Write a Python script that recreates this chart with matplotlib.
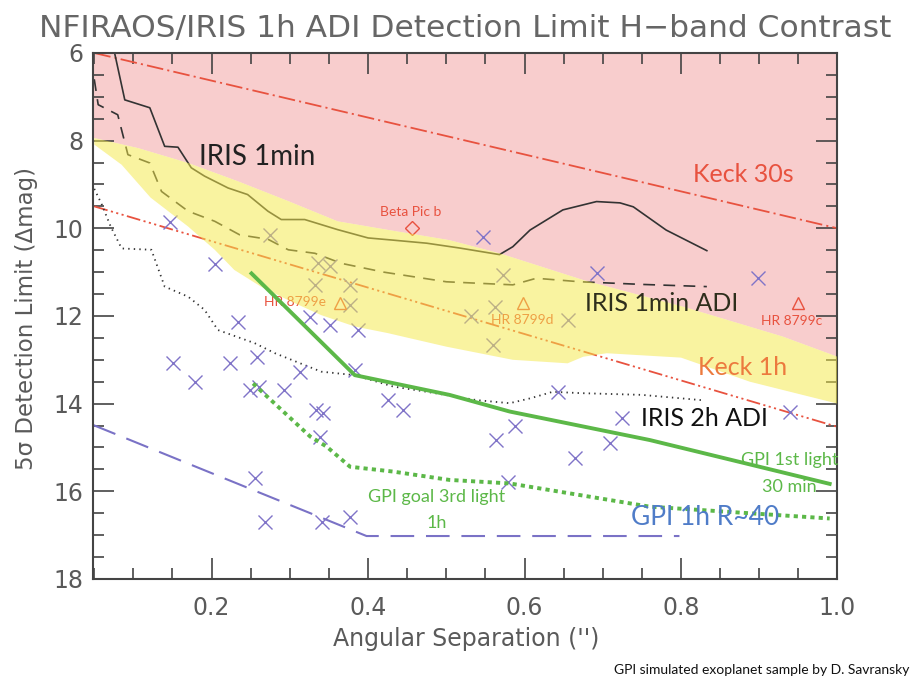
import numpy as np
import matplotlib
matplotlib.use("Agg")
import matplotlib.pyplot as plt

# ---- data ----
keck30_x = [0.05, 1.0]
keck30_y = [6.0, 10.0]
keck1h_x = [0.05, 1.0]
keck1h_y = [9.5, 14.53]

iris1_x = [0.076, 0.089, 0.121, 0.140, 0.157, 0.174, 0.191, 0.221, 0.246, 0.272, 0.289,
           0.319, 0.361, 0.400, 0.432, 0.475, 0.517, 0.568, 0.585, 0.607, 0.649, 0.692,
           0.722, 0.739, 0.781, 0.833]
iris1_y = [6.0, 7.07, 7.25, 8.13, 8.15, 8.62, 8.81, 9.08, 9.23, 9.61, 9.80,
           9.80, 10.03, 10.22, 10.27, 10.34, 10.45, 10.60, 10.42, 10.04, 9.58, 9.39,
           9.42, 9.51, 10.04, 10.51]

adi1_x = [0.05, 0.055, 0.080, 0.093, 0.121, 0.136, 0.170, 0.204, 0.236, 0.272, 0.298,
          0.332, 0.366, 0.420, 0.500, 0.585, 0.615, 0.671, 0.750, 0.833]
adi1_y = [6.6, 7.18, 7.41, 8.32, 8.51, 9.16, 9.61, 9.84, 10.15, 10.25, 10.49,
          10.57, 10.80, 11.00, 11.22, 11.29, 11.14, 11.22, 11.28, 11.33]

adi2_x = [0.05, 0.059, 0.071, 0.085, 0.123, 0.140, 0.170, 0.191, 0.208, 0.255, 0.281,
          0.340, 0.383, 0.432, 0.475, 0.539, 0.581, 0.607, 0.636, 0.671, 0.750, 0.826]
adi2_y = [9.1, 9.43, 9.96, 10.46, 10.49, 11.33, 11.56, 11.86, 12.32, 12.62, 12.85,
          13.27, 13.35, 13.61, 13.73, 13.92, 13.99, 13.88, 13.73, 13.76, 13.80, 13.92]

gpi1st_x = [0.251, 0.383, 0.504, 0.581, 0.760, 0.990]
gpi1st_y = [11.03, 13.35, 13.80, 14.18, 14.83, 15.83]

gpigoal_x = [0.253, 0.326, 0.347, 0.377, 0.432, 0.504, 0.581, 0.760, 0.990]
gpigoal_y = [13.54, 14.75, 14.98, 15.44, 15.55, 15.74, 15.82, 16.35, 16.62]

gpir40_x = [0.049, 0.253, 0.347, 0.398, 0.798]
gpir40_y = [14.49, 15.97, 16.65, 17.02, 17.02]

yel_up_x = [0.05, 0.106, 0.170, 0.234, 0.298, 0.361, 0.43, 0.504, 0.568, 0.675, 0.803, 0.93, 1.0]
yel_up_y = [7.94, 8.17, 8.51, 8.93, 9.38, 9.84, 10.05, 10.27, 10.57, 11.18, 11.79, 12.47, 12.93]
yel_lo_x = [0.05, 0.085, 0.122, 0.170, 0.204, 0.229, 0.263, 0.298, 0.340, 0.383, 0.425,
            0.50, 0.585, 0.655, 0.675, 0.705, 0.80, 0.888, 1.0]
yel_lo_y = [8.09, 8.55, 9.30, 9.96, 10.49, 10.95, 11.33, 11.64, 11.98, 12.24, 12.39,
            12.70, 13.00, 13.08, 12.93, 12.85, 12.95, 13.50, 14.00]

planets_x = [0.147, 0.275, 0.204, 0.336, 0.351, 0.332, 0.377, 0.377, 0.326, 0.351, 0.387,
             0.234, 0.547, 0.573, 0.562, 0.532, 0.560, 0.656, 0.692, 0.899, 0.151, 0.179,
             0.223, 0.258, 0.313, 0.249, 0.260, 0.292, 0.383, 0.334, 0.343, 0.338, 0.426,
             0.445, 0.255, 0.268, 0.341, 0.377, 0.564, 0.579, 0.643, 0.588, 0.664, 0.709,
             0.724, 0.939]
planets_y = [9.85, 10.15, 10.81, 10.80, 10.87, 11.29, 11.29, 11.75, 12.02, 12.21, 12.32,
             12.13, 10.19, 11.07, 11.79, 12.00, 12.66, 12.09, 11.03, 11.14, 13.08, 13.50,
             13.08, 12.93, 13.27, 13.69, 13.63, 13.69, 13.23, 14.15, 14.21, 14.75, 13.92,
             14.15, 15.70, 16.69, 16.69, 16.58, 14.83, 15.78, 13.73, 14.52, 15.25, 14.90,
             14.33, 14.18]

known_names = ["HR 8799e", "HR 8799d", "HR 8799c"]
known_x = [0.364, 0.598, 0.950]
known_y = [11.71, 11.71, 11.71]
betapic_x = 0.456
betapic_y = 10.0

plt.rcParams["lines.scale_dashes"] = False
lab_font = "Lato"
red = "#e8523f"
green = "#5cb848"
gray = "#5a5a5a"

fig = plt.figure(figsize=(9.12, 6.79), dpi=100)
ax = fig.add_axes([0.1025, 0.1473, 0.8158, 0.7747])
ax.set_xlim(0.049, 1.0)
ax.set_ylim(18, 6)

# pink region above the yellow band
ax.fill(list(yel_up_x) + [1.0, 0.049, 0.049],
        list(yel_up_y) + [6.0, 6.0, yel_up_y[0]],
        color="#f8cdcd", lw=0, zorder=0)

ax.plot(keck30_x, keck30_y, color=red, lw=1.3, ls=(0, (12, 3, 1.5, 3)), zorder=2)
ax.plot(keck1h_x, keck1h_y, color=red, lw=1.3,
        ls=(0, (10, 2.5, 1.5, 2.5, 1.5, 2.5, 1.5, 2.5)), zorder=2)
ax.plot(iris1_x, iris1_y, color="#333333", lw=1.2, zorder=2)
ax.plot(adi1_x, adi1_y, color="#333333", lw=1.2, ls=(0, (8.5, 6)), zorder=2)
ax.plot(adi2_x, adi2_y, color="#333333", lw=1.3, ls=(0, (1, 3)), zorder=2)
ax.plot(gpir40_x, gpir40_y, color="#7a72c6", lw=1.5, ls=(0, (17, 8.5)), zorder=2)
ax.plot(planets_x, planets_y, ls="none", marker="x", ms=10, mew=1.0,
        color="#8074c8", zorder=2)

ax.plot(known_x, known_y, ls="none", marker="^", ms=9, mfc="none", mew=1.0,
        color=red, zorder=2)
ax.plot([betapic_x], [betapic_y], ls="none", marker="D", ms=7, mfc="none", mew=1.0,
        color=red, zorder=2)
ax.text(betapic_x - 0.002, 9.71, "Beta Pic b", color=red, fontsize=10,
        family=lab_font, ha="center", va="baseline", zorder=2)
ax.text(0.346, 11.77, known_names[0], color=red, fontsize=10, family=lab_font,
        ha="right", va="baseline", zorder=2)
ax.text(0.597, 12.19, known_names[1], color=red, fontsize=10, family=lab_font,
        ha="center", va="baseline", zorder=2)
ax.text(0.942, 12.21, known_names[2], color=red, fontsize=10, family=lab_font,
        ha="center", va="baseline", zorder=2)

ax.text(0.258, 8.56, "IRIS 1min", color="#222222", fontsize=20, family=lab_font,
        ha="center", va="baseline", zorder=2)
ax.text(0.880, 8.94, "Keck 30s", color=red, fontsize=18, family=lab_font,
        ha="center", va="baseline", zorder=2)

# yellow band drawn over everything above, semi transparent
ax.fill(list(yel_up_x) + list(yel_lo_x[::-1]),
        list(yel_up_y) + list(yel_lo_y[::-1]),
        color="#f4e84a", alpha=0.52, lw=0, zorder=3)

ax.plot(gpi1st_x, gpi1st_y, color=green, lw=2.8, zorder=4)
ax.plot(gpigoal_x, gpigoal_y, color=green, lw=2.8, ls=(0, (3, 3)), zorder=4)

ax.text(0.775, 11.88, "IRIS 1min ADI", color="#2e2e1c", fontsize=18, family=lab_font,
        ha="center", va="baseline", zorder=5)
ax.text(0.879, 13.35, "Keck 1h", color="#ec7a3e", fontsize=18, family=lab_font,
        ha="center", va="baseline", zorder=5)
ax.text(0.830, 14.51, "IRIS 2h ADI", color="#111111", fontsize=18, family=lab_font,
        ha="center", va="baseline", zorder=5)
ax.text(0.939, 15.40, "GPI 1st light", color=green, fontsize=13, family=lab_font,
        ha="center", va="baseline", zorder=5)
ax.text(0.939, 16.01, "30 min", color=green, fontsize=13, family=lab_font,
        ha="center", va="baseline", zorder=5)
ax.text(0.488, 16.24, "GPI goal 3rd light", color=green, fontsize=13, family=lab_font,
        ha="center", va="baseline", zorder=5)
ax.text(0.488, 16.84, "1h", color=green, fontsize=13, family=lab_font,
        ha="center", va="baseline", zorder=5)
ax.text(0.831, 16.77, "GPI 1h R~40", color="#4f7cc8", fontsize=19, family=lab_font,
        ha="center", va="baseline", zorder=5)

# axes styling, IDL-like inward ticks on all sides
ax.set_xticks([0.2, 0.4, 0.6, 0.8, 1.0])
ax.set_xticklabels(["0.2", "0.4", "0.6", "0.8", "1.0"])
ax.set_xticks(np.arange(0.05, 1.0, 0.05), minor=True)
ax.set_yticks([6, 8, 10, 12, 14, 16, 18])
ax.set_yticks(np.arange(6, 18.1, 0.5), minor=True)
ax.tick_params(which="both", direction="in", top=True, right=True, color="#444444",
               labelcolor=gray, labelsize=17, width=1.2)
ax.tick_params(which="major", length=15)
ax.tick_params(which="minor", length=8)
ax.tick_params(axis="x", pad=12)
ax.tick_params(axis="y", pad=7)
for s in ax.spines.values():
    s.set_color("#444444")
    s.set_linewidth(1.5)

fig.text(465 / 912, 1 - 28 / 679, "NFIRAOS/IRIS 1h ADI Detection Limit H\u2212band Contrast",
         ha="center", va="center", fontsize=22.5, color="#666666")
fig.text(466 / 912, 0.0486, "Angular Separation ('')", ha="center", va="baseline",
         fontsize=17, color=gray)
fig.text(27 / 912, 1 - 318 / 679, "5\u03c3 Detection Limit (\u0394mag)", ha="center",
         va="center", rotation=90, fontsize=16.5, color=gray)
fig.text(0.997, 0.008, "GPI simulated exoplanet sample by D. Savransky", ha="right",
         va="baseline", fontsize=10, family=lab_font, color="#111111")

fig.savefig("out.png", dpi=100)
